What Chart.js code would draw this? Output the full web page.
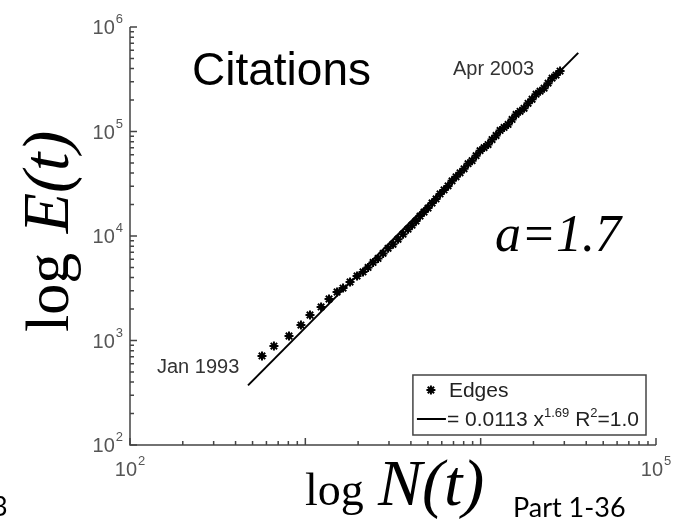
<!DOCTYPE html>
<html>
<head>
<meta charset="utf-8">
<script src="https://cdn.jsdelivr.net/npm/chart.js@4.4.1/dist/chart.umd.min.js"></script>
<style>
  body { margin: 0; background: #fff; }
</style>
</head>
<body>
<canvas id="citeChart" width="685" height="530"></canvas>
<script>
// citation graph snapshots, Jan 1993 .. Apr 2003: nodes N(t) vs edges E(t)
let nodeCounts = [566, 662, 807, 944, 1063, 1230, 1365, 1517, 1641, 1799, 1972, 2133,
  2279, 2434, 2598, 2776, 2964, 3164, 3379, 3608, 3853, 4061, 4280, 4510, 4753, 5010,
  5282, 5566, 5866, 6182, 6516, 6867, 7238, 7628, 8039, 8474, 8930, 9415, 9922, 10457,
  11021, 11614, 12243, 12902, 13598, 14331, 15103, 15917, 16777, 17681, 18633, 19637,
  20701, 21819, 22999, 24235, 25545, 26922, 28373];
let edgeCounts = [711, 885, 1104, 1406, 1754, 2094, 2496, 2911, 3178, 3630, 4143, 4529,
  4998, 5585, 6103, 6818, 7621, 8330, 9310, 10400, 11620, 12700, 13880, 15510, 16940, 18510,
  20690, 22620, 25270, 27610, 30170, 33700, 36840, 40250, 43990, 49150, 52530, 58710, 65600, 70120,
  74950, 83740, 91540, 102300, 109300, 116800, 130500, 145800, 155900, 166700, 186200, 203500,
  227300, 243000, 259800, 290200, 324300, 346700, 378800];

// fitted power law E = 0.0113 N^1.69, ends of the drawn line
let fitNodes = [471, 36000];
let fitEdges = [372, 566000];

// decade labels shown on each axis
let xLabelExps = [2, 5];
let yLabelExps = [2, 3, 4, 5, 6];

const AXIS = '#444';
const SANS = '"Liberation Sans", Arial, sans-serif';
const SERIF = '"Liberation Serif", "Times New Roman", serif';

function drawPow(ctx, exp, x, y, align, big, small) {
  // "10" with a raised exponent
  ctx.font = big + 'px ' + SANS;
  const wBase = ctx.measureText('10').width;
  ctx.font = small + 'px ' + SANS;
  const wExp = ctx.measureText(String(exp)).width;
  const total = wBase + 1 + wExp;
  let left = align === 'right' ? x - total : x - total / 2;
  ctx.textAlign = 'left';
  ctx.textBaseline = 'alphabetic';
  ctx.font = big + 'px ' + SANS;
  ctx.fillText('10', left, y);
  ctx.font = small + 'px ' + SANS;
  ctx.fillText(String(exp), left + wBase + 1, y - 11);
}

const decorPlugin = {
  id: 'decor',
  afterDraw(chart) {
    const { ctx, chartArea: a, scales: { x, y } } = chart;
    ctx.save();
    ctx.strokeStyle = AXIS;
    ctx.fillStyle = AXIS;
    ctx.lineWidth = 1.5;

    // axis lines (left and bottom only)
    ctx.beginPath();
    ctx.moveTo(a.left, a.top);
    ctx.lineTo(a.left, a.bottom);
    ctx.lineTo(a.right, a.bottom);
    ctx.stroke();

    // inward log ticks
    ctx.beginPath();
    for (let e = 2; e <= 5; e++) {
      for (let m = 1; m <= 9; m++) {
        const v = m * Math.pow(10, e);
        const len = m === 1 ? 7 : 4;
        const py = y.getPixelForValue(v);
        ctx.moveTo(a.left, py); ctx.lineTo(a.left + len, py);
        if (e < 5) {
          const px = x.getPixelForValue(v);
          ctx.moveTo(px, a.bottom); ctx.lineTo(px, a.bottom - len);
        }
      }
    }
    let py6 = y.getPixelForValue(1e6);
    ctx.moveTo(a.left, py6); ctx.lineTo(a.left + 7, py6);
    let px5 = x.getPixelForValue(1e5);
    ctx.moveTo(px5, a.bottom); ctx.lineTo(px5, a.bottom - 7);
    ctx.stroke();

    // tick labels
    ctx.fillStyle = '#555';
    yLabelExps.forEach(e => {
      drawPow(ctx, e, a.left - 7, y.getPixelForValue(Math.pow(10, e)) + 7, 'right', 20, 13);
    });
    xLabelExps.forEach(e => {
      drawPow(ctx, e, x.getPixelForValue(Math.pow(10, e)), a.bottom + 31, 'center', 20, 13);
    });

    // annotations
    ctx.fillStyle = '#000';
    ctx.textAlign = 'left';
    ctx.font = '46px ' + SANS;
    ctx.fillText('Citations', 192, 85);
    ctx.fillStyle = '#333';
    ctx.font = '20px ' + SANS;
    ctx.fillText('Apr 2003', 453, 75);
    ctx.fillText('Jan 1993', 157, 373);
    ctx.fillStyle = '#000';
    ctx.font = 'italic 52px ' + SERIF;
    ctx.fillText('a=1.7', 495, 251);

    // axis titles
    ctx.font = '46px ' + SERIF;
    ctx.fillText('log', 305, 505);
    ctx.font = 'italic 66px ' + SERIF;
    ctx.fillText('N(t)', 378, 505);

    ctx.save();
    ctx.translate(68, 332);
    ctx.rotate(-Math.PI / 2);
    ctx.font = '62px ' + SERIF;
    ctx.fillText('log', 0, 0);
    let wl2 = ctx.measureText('log ').width;
    ctx.font = 'italic 66px ' + SERIF;
    ctx.fillText('E(t)', wl2 + 4, 0);
    ctx.restore();

    // slide footer
    ctx.font = '27px Lato, "Open Sans", sans-serif';
    ctx.fillText('Part 1-36', 513, 517);
    ctx.fillText('3', -8, 516);

    // legend, anchored to lower right corner of the axes
    const parts = [['= 0.0113 x', 21, 0], ['1.69', 13, -9], [' R', 21, 0], ['2', 13, -9], ['=1.0', 21, 0]];
    let textW = 0;
    parts.forEach(([t, s]) => { ctx.font = s + 'px ' + SANS; textW += ctx.measureText(t).width; });
    const boxR = a.right - 10, boxB = a.bottom - 10, boxT = boxB - 60;
    const textX = boxR - 7 - textW;
    const boxL = textX - 34;
    ctx.fillStyle = '#fff';
    ctx.fillRect(boxL, boxT, boxR - boxL, boxB - boxT);
    ctx.strokeStyle = AXIS;
    ctx.lineWidth = 1.5;
    ctx.strokeRect(boxL, boxT, boxR - boxL, boxB - boxT);

    const ds0 = chart.data.datasets[0];
    const sampleMid = textX - 16;
    ctx.strokeStyle = '#000';
    ctx.lineWidth = ds0.borderWidth;
    Chart.helpers.drawPoint(ctx, { pointStyle: ds0.pointStyle, radius: ds0.pointRadius, borderWidth: ds0.borderWidth, rotation: 0 }, sampleMid, boxT + 15);
    ctx.lineWidth = 2;
    ctx.beginPath();
    ctx.moveTo(textX - 30, boxT + 44); ctx.lineTo(textX - 1, boxT + 44);
    ctx.stroke();

    ctx.fillStyle = '#222';
    ctx.font = '21px ' + SANS;
    ctx.fillText('Edges', textX + 2, boxT + 22);
    let tx = textX;
    parts.forEach(([t, s, dy]) => {
      ctx.font = s + 'px ' + SANS;
      ctx.fillText(t, tx, boxT + 51 + dy);
      tx += ctx.measureText(t).width;
    });
    ctx.restore();
  }
};

const ctx = document.getElementById('citeChart').getContext('2d');
const citeChart = new Chart(ctx, {
  type: 'scatter',
  data: {
    datasets: [{
      label: 'Edges',
      data: nodeCounts.map((n, i) => ({ x: n, y: edgeCounts[i] })),
      pointStyle: 'star',
      pointRadius: 4.5,
      borderWidth: 2,
      borderColor: '#000',
      backgroundColor: '#000'
    }, {
      label: '= 0.0113 x^1.69 R^2=1.0',
      data: fitNodes.map((n, i) => ({ x: n, y: fitEdges[i] })),
      showLine: true,
      pointRadius: 0,
      borderColor: '#000',
      borderWidth: 2
    }]
  },
  options: {
    responsive: false,
    animation: false,
    layout: { padding: { left: 130, top: 27, right: 29, bottom: 85 } },
    plugins: { legend: { display: false }, tooltip: { enabled: false } },
    scales: {
      x: { type: 'logarithmic', min: 100, max: 100000, display: false },
      y: { type: 'logarithmic', min: 100, max: 1000000, display: false }
    }
  },
  plugins: [decorPlugin]
});
</script>
</body>
</html>
